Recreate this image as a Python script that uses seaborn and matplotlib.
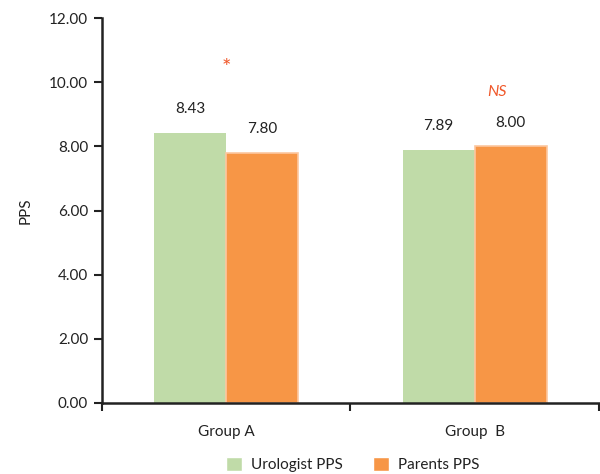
import matplotlib
matplotlib.use("Agg")
import matplotlib.pyplot as plt
import seaborn as sns
import pandas as pd

groups = ["Group A", "Group  B"]
series = ["Urologist PPS", "Parents PPS"]
urologist = [8.43, 7.89]
parents = [7.80, 8.00]
value_labels_u = ["8.43", "7.89"]
value_labels_p = ["7.80", "8.00"]
sig_labels = ["*", "NS"]

df = pd.DataFrame({
    "group": groups * 2,
    "series": [series[0]] * 2 + [series[1]] * 2,
    "value": urologist + parents,
})

sns.set_style("white")
plt.rcParams["font.family"] = ["Lato", "DejaVu Sans"]

fig = plt.figure(figsize=(6, 4.74), dpi=100)
ax = fig.add_axes([0.17, 0.1498, 0.828, 0.8122])

green = "#c0dba8"
orange = "#f79646"
sns.barplot(data=df, x="group", y="value", hue="series", order=groups,
            hue_order=series, palette=[green, orange], width=0.58,
            ax=ax, legend=True, saturation=1)

for cont, ec in zip(ax.containers, ["none", "#fcc7a0"]):
    for bar in cont:
        bar.set_edgecolor(ec)
        bar.set_linewidth(1.2)

labels_all = [value_labels_u, value_labels_p]
for cont, labs in zip(ax.containers, labels_all):
    ax.bar_label(cont, labels=labs, padding=12, fontsize=11, color="#222222")

ax.set_xlim(-0.5, 1.5)
ax.set_ylim(0, 12)
ax.set_yticks([0, 2, 4, 6, 8, 10, 12])
ax.set_yticklabels([f"{v:.2f}" for v in [0, 2, 4, 6, 8, 10, 12]], fontsize=11, color="#222222")
ax.set_xticks([-0.5, 0.5, 1.5])
ax.set_xticklabels(["", "", ""])
ax.set_xticks([0, 1], minor=True)
ax.set_xticklabels(groups, minor=True, fontsize=11, color="#222222")
ax.tick_params(axis="x", which="minor", bottom=True, length=0, pad=16)
ax.tick_params(axis="x", which="major", bottom=True, length=6, width=1.5, direction="out", color="#222222")
ax.tick_params(axis="y", left=True, length=6, width=1.5, direction="out", color="#222222", pad=4)
ax.set_xlabel("")
ax.set_ylabel("PPS", fontsize=11, color="#222222", labelpad=12)

for s in ["top", "right"]:
    ax.spines[s].set_visible(False)
for s in ["left", "bottom"]:
    ax.spines[s].set_color("#222222")
    ax.spines[s].set_linewidth(1.8)

sig_color = "#f0582a"
ax.text(0.0, 10.45, sig_labels[0], ha="center", va="center", fontsize=16, color=sig_color)
ax.text(1.09, 9.69, sig_labels[1], ha="center", va="center", fontsize=11.5,
        color=sig_color, style="italic")

leg = ax.legend(loc="center", bbox_to_anchor=(0.505, -0.16), ncol=2, frameon=False,
                fontsize=11, handlelength=1.0, handleheight=1.0, columnspacing=2.0,
                handletextpad=0.6)
for t in leg.get_texts():
    t.set_color("#222222")

fig.savefig("out.png", dpi=100)
